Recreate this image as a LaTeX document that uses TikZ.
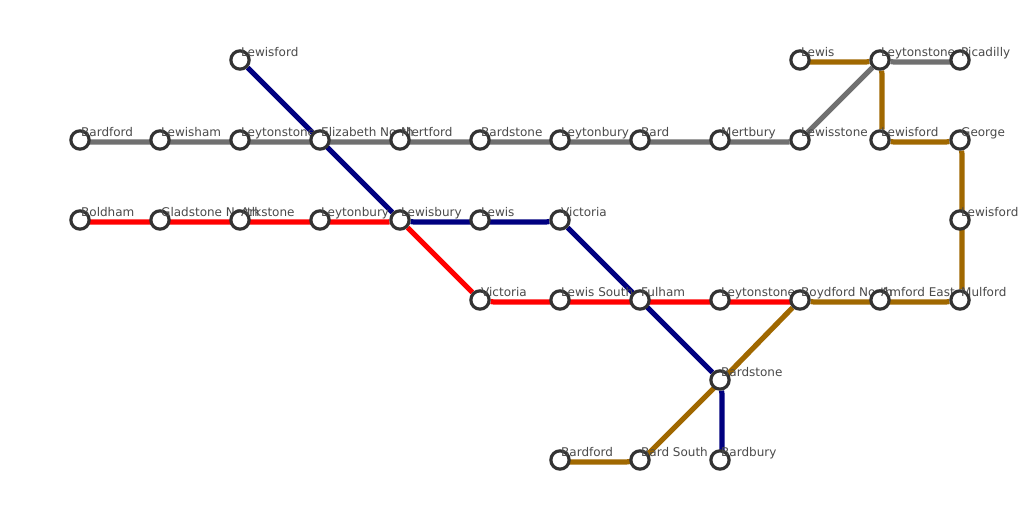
\documentclass[tikz,border=0pt]{standalone}
\usepackage{fontspec}
\setmainfont{DejaVu Sans}
\usetikzlibrary{backgrounds,calc}
\definecolor{greyline}{HTML}{707070}
\definecolor{redline}{HTML}{FF0000}
\definecolor{blueline}{HTML}{000080}
\definecolor{goldline}{HTML}{A06800}
\definecolor{ringcol}{HTML}{333333}
\definecolor{txtcol}{HTML}{4A4A4A}
\tikzset{
  stn/.style={circle,draw=ringcol,fill=white,line width=3.2pt,minimum size=18.3pt,inner sep=0pt},
  lbl/.style={anchor=base west,inner sep=0pt,text=txtcol,font=\fontsize{12}{14}\selectfont},
  metro/.style={line width=5.2pt,line join=round},
}
\newcommand{\stnat}[4]{%
  \node[stn] (#1) at (#2,#3) {};
  \node[lbl] (#1-l) at (#2+1,#3-4) {#4};
}
\begin{document}
\begin{tikzpicture}[x=1pt,y=-1pt]
\useasboundingbox (0,0) rectangle (1024,512);
\stnat{g1}{80}{140}{Bardford}
\stnat{r1}{80}{220}{Boldham}
\stnat{g2}{160}{140}{Lewisham}
\stnat{r2}{160}{220}{Gladstone North}
\stnat{b1}{240}{60}{Lewisford}
\stnat{g3}{240}{140}{Leytonstone}
\stnat{r3}{240}{220}{Arkstone}
\stnat{x1}{320}{140}{Elizabeth North}
\stnat{r4}{320}{220}{Leytonbury}
\stnat{g5}{400}{140}{Mertford}
\stnat{x2}{400}{220}{Lewisbury}
\stnat{g6}{480}{140}{Bardstone}
\stnat{b3}{480}{220}{Lewis}
\stnat{r6}{480}{300}{Victoria}
\stnat{g7}{560}{140}{Leytonbury}
\stnat{b4}{560}{220}{Victoria}
\stnat{r7}{560}{300}{Lewis South}
\stnat{n1}{560}{460}{Bardford}
\stnat{g8}{640}{140}{Bard}
\stnat{x3}{640}{300}{Fulham}
\stnat{n2}{640}{460}{Bard South}
\stnat{g9}{720}{140}{Mertbury}
\stnat{r9}{720}{300}{Leytonstone}
\stnat{x4}{720}{380}{Bardstone}
\stnat{b7}{720}{460}{Bardbury}
\stnat{n3}{800}{60}{Lewis}
\stnat{g10}{800}{140}{Lewisstone}
\stnat{x5}{800}{300}{Boydford North}
\stnat{x6}{880}{60}{Leytonstone}
\stnat{n5}{880}{140}{Lewisford}
\stnat{n9}{880}{300}{Amford East}
\stnat{g12}{960}{60}{Picadilly}
\stnat{n6}{960}{140}{George}
\stnat{n7}{960}{220}{Lewisford}
\stnat{n8}{960}{300}{Mulford}
\begin{scope}[on background layer]
\fill[white] (0,0) rectangle (1024,512);
\draw[metro,greyline] ($(g1)+(0,2)$) -- ($(g10)+(-12,2)$) -- (g10) -- (x6) -- ($(x6)+(14,2)$) -- ($(g12)+(0,2)$);
\draw[metro,redline] ($(r1)+(0,2)$) -- ($(x2)+(-12,2)$) -- (x2) -- (r6) -- ($(r6)+(14,2)$) -- ($(x5)+(0,2)$);
\draw[metro,blueline] (b1) -- (x2) -- ($(x2)+(14,2)$) -- ($(b4)+(-14,2)$) -- (b4) -- (x4) -- ($(x4)+(2,14)$) -- ($(b7)+(2,0)$);
\draw[metro,goldline] ($(n3)+(0,2)$) -- ($(x6)+(-14,2)$) -- (x6) -- ($(x6)+(2,14)$) -- ($(n5)+(2,-12)$) -- (n5) -- ($(n5)+(14,2)$) -- ($(n6)+(-14,2)$) -- (n6) -- ($(n6)+(2,14)$) -- ($(n8)+(2,-12)$) -- (n8) -- ($(n8)+(-14,2)$) -- ($(x5)+(14,2)$) -- (x5) -- ($(x4)+(2,0)$) -- ($(n2)+(2,0)$) -- ($(n2)+(-14,2)$) -- ($(n1)+(0,2)$);
\end{scope}
\end{tikzpicture}
\end{document}
